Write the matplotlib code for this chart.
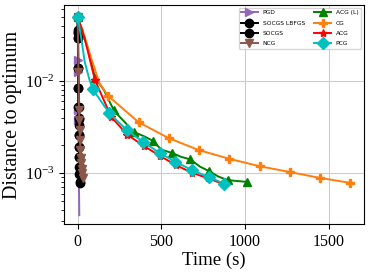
import matplotlib
matplotlib.use("Agg")
import matplotlib.pyplot as plt

plt.rcParams['font.family'] = ['Liberation Serif', 'DejaVu Serif']
plt.rcParams['mathtext.fontset'] = 'stix'

# ---- data ----
pgd_t = [0, 2, 3, 4, 5, 6, 8, 10]
pgd_y = [0.05, 0.0169, 0.0126, 0.0048, 0.0038, 0.0015, 0.0007, 0.00035]
pgd_mark = [0, 1, 2, 3, 4]

socgs_lbfgs_t = [0, 1, 2, 3, 4, 5, 6, 7, 8, 9, 10, 11, 12, 13, 14]
socgs_lbfgs_y = [0.05, 0.0358, 0.0332, 0.0293, 0.0139, 0.0084, 0.00522, 0.00396,
                 0.00333, 0.00259, 0.00191, 0.00149, 0.00116, 0.0010, 0.0008]

socgs_t = [0, 1, 2, 3, 4, 5, 6, 7, 8, 9, 10, 11, 12]
socgs_y = [0.05, 0.034, 0.029, 0.0139, 0.0084, 0.0052, 0.0039, 0.0026,
           0.0019, 0.0015, 0.00116, 0.00098, 0.00078]

ncg_t = [0, 5, 8, 10, 12, 14, 17, 19, 22, 25, 28, 30]
ncg_y = [0.05, 0.0126, 0.00484, 0.00377, 0.00294, 0.00228, 0.00178,
         0.00146, 0.00128, 0.00110, 0.00100, 0.00088]

acgl_t = [0, 22, 61, 104, 157, 186, 216, 245, 300, 335, 400, 450, 500, 563,
          620, 673, 730, 786, 840, 897, 1010]
acgl_y = [0.05, 0.0373, 0.0227, 0.0108, 0.0080, 0.0062, 0.00484, 0.0042,
          0.0033, 0.0028, 0.0025, 0.00224, 0.00180, 0.00166, 0.00150, 0.00141,
          0.00118, 0.00105, 0.00092, 0.00084, 0.000805]
acgl_mark = [0, 3, 6, 9, 11, 13, 15, 17, 19, 20]

cg_t = [0, 32, 81, 130, 183, 365, 544, 724, 907, 1087, 1266, 1446, 1629]
cg_y = [0.05, 0.0343, 0.0177, 0.0095, 0.00687, 0.00356, 0.0024, 0.00178,
        0.00143, 0.00119, 0.00103, 0.00089, 0.000785]
cg_mark = [0, 4, 5, 6, 7, 8, 9, 10, 11, 12]

acg_t = [0, 42, 71, 103, 200, 296, 395, 494, 589, 683, 780, 871]
acg_y = [0.05, 0.029, 0.0177, 0.0103, 0.0041, 0.00262, 0.00198, 0.00153,
         0.00122, 0.00101, 0.00088, 0.00076]
acg_mark = [0, 3, 4, 5, 6, 7, 8, 9, 10, 11]

pcg_t = [0, 22, 42, 71, 91, 190, 294, 389, 490, 583, 683, 782, 875]
pcg_y = [0.05, 0.029, 0.0162, 0.0103, 0.0081, 0.00446, 0.00293, 0.00219,
         0.00166, 0.00133, 0.00108, 0.00091, 0.00077]
pcg_mark = [0, 4, 5, 6, 7, 8, 9, 10, 11, 12]


def main():
    fig = plt.figure(figsize=(3.71, 2.72), dpi=100)
    ax = fig.add_axes([0.1725, 0.176, 0.8085, 0.806])
    ms = 6
    lw = 1.4

    ax.plot(pgd_t, pgd_y, color='tab:purple', marker='>', markevery=pgd_mark,
            ms=ms, lw=lw, label='PGD')
    ax.plot(socgs_lbfgs_t, socgs_lbfgs_y, color='black', marker='o', ms=ms,
            lw=lw, label='SOCGS LBFGS')
    ax.plot(socgs_t, socgs_y, color='black', marker='o', ms=ms, lw=lw,
            label='SOCGS')
    ax.plot(ncg_t, ncg_y, color='tab:brown', marker='v', ms=ms, lw=lw,
            label='NCG')
    ax.plot(acgl_t, acgl_y, color='green', marker='^', markevery=acgl_mark,
            ms=ms, lw=lw, label='ACG (L)')
    ax.plot(cg_t, cg_y, color='tab:orange', marker='P', markevery=cg_mark,
            ms=ms, lw=lw, label='CG')
    ax.plot(acg_t, acg_y, color='red', marker='*', markevery=acg_mark,
            ms=ms, lw=lw, label='ACG')
    ax.plot(pcg_t, pcg_y, color='c', marker='D', markevery=pcg_mark,
            ms=ms, lw=lw, label='PCG')

    ax.set_yscale('log')
    ax.set_ylim(2.8e-4, 0.067)
    ax.set_xticks([0, 500, 1000, 1500])
    ax.grid(True, color='#cccccc')
    ax.tick_params(labelsize=11.5)
    ax.set_xlabel('Time (s)', fontsize=13.5, labelpad=1)
    ax.set_ylabel('Distance to optimum', fontsize=14.5, labelpad=2)

    ax.legend(loc='upper right', ncol=2, prop={'family': 'DejaVu Sans', 'size': 4.3},
              handlelength=2.8, columnspacing=1.6, borderaxespad=0.5,
              labelspacing=0.85)

    plt.savefig('out.png', dpi=100)
    plt.close()


if __name__ == "__main__":
    main()
